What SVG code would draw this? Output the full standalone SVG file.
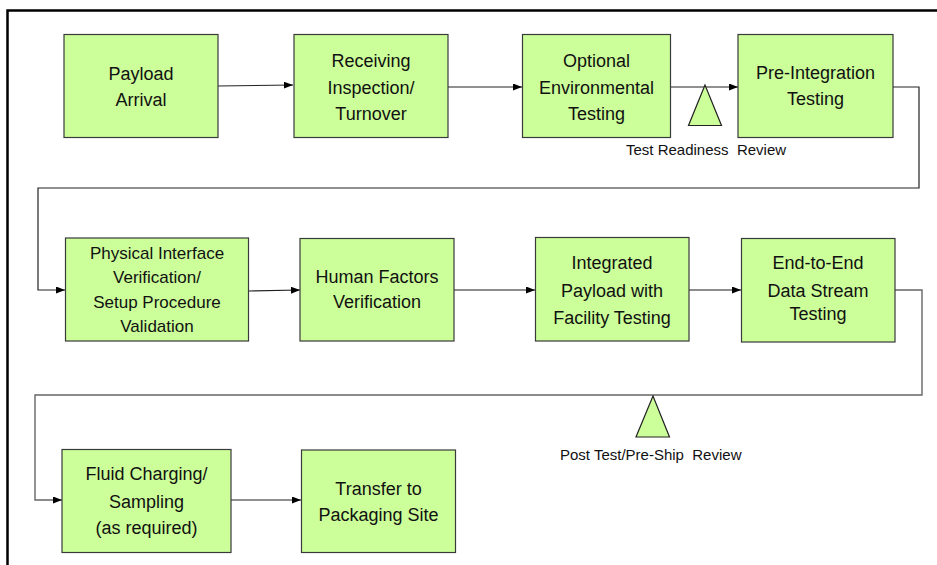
<svg xmlns="http://www.w3.org/2000/svg" width="937" height="565" viewBox="0 0 937 565">
<style>
.box{fill:#ccff99;stroke:#3a3a3a;stroke-width:1.2}
.tri{fill:#ccff99;stroke:#222;stroke-width:1.2}
.t{font-family:"Liberation Sans",Arial,sans-serif;font-size:18px;fill:#111;text-anchor:middle}
.ts{font-size:17px}
.cap{font-family:"Liberation Sans",Arial,sans-serif;font-size:15px;fill:#111;white-space:pre}
.c{fill:none;stroke:#222;stroke-width:1.2}
.cg{fill:none;stroke:#666;stroke-width:1.4}
</style>
<defs>
<marker id="ah" markerUnits="userSpaceOnUse" markerWidth="10" markerHeight="8" refX="9" refY="3.5" orient="auto">
<path d="M0,0 L9,3.5 L0,7 z" fill="#000"/>
</marker>
</defs>
<rect width="937" height="565" fill="#fff"/>
<path d="M7.5,565 V10.5 H937" fill="none" stroke="#000" stroke-width="2.5"/>
<g id="connectors">
<path class="c" d="M218,86 L293,85" marker-end="url(#ah)"/>
<path class="c" d="M448,87 L522,87" marker-end="url(#ah)"/>
<path class="c" d="M671,87 L738,87" marker-end="url(#ah)"/>
<path class="c" d="M893,87 H919 V188 H38 V290 H65" marker-end="url(#ah)"/>
<path class="c" d="M249,291 L300,290" marker-end="url(#ah)"/>
<path class="cg" d="M454,290 L535,290" marker-end="url(#ah)"/>
<path class="cg" d="M689,290 L741,290" marker-end="url(#ah)"/>
<path class="cg" d="M895,290 H922 V395 H35 V500 H62" marker-end="url(#ah)"/>
<path class="c" d="M231,500 L301,500" marker-end="url(#ah)"/>
</g>
<g id="n1"><rect class="box" x="64" y="34.5" width="154" height="103"/>
<text class="t" x="141" y="80">Payload</text><text class="t" x="141" y="106">Arrival</text></g>
<g id="n2"><rect class="box" x="294" y="34.5" width="154" height="103"/>
<text class="t" x="371" y="67">Receiving</text><text class="t" x="371" y="94">Inspection/</text><text class="t" x="371" y="120">Turnover</text></g>
<g id="n3"><rect class="box" x="522.5" y="34.5" width="148" height="103"/>
<text class="t" x="596.5" y="67">Optional</text><text class="t" x="596.5" y="94">Environmental</text><text class="t" x="596.5" y="120">Testing</text></g>
<g id="n4"><rect class="box" x="738" y="34.5" width="155" height="103"/>
<text class="t" x="815.5" y="79">Pre-Integration</text><text class="t" x="815.5" y="105">Testing</text></g>
<g id="r1"><polygon class="tri" points="705,85 688.5,125.5 721.5,125.5"/>
<text class="cap" x="626" y="155">Test Readiness  Review</text></g>
<g id="n5"><rect class="box" x="65.5" y="238" width="183" height="103"/>
<text class="t ts" x="157" y="259">Physical Interface</text><text class="t ts" x="157" y="283">Verification/</text><text class="t ts" x="157" y="307.5">Setup Procedure</text><text class="t ts" x="157" y="332">Validation</text></g>
<g id="n6"><rect class="box" x="300" y="238.5" width="154" height="102.5"/>
<text class="t" x="377" y="283">Human Factors</text><text class="t" x="377" y="308">Verification</text></g>
<g id="n7"><rect class="box" x="535.5" y="237.5" width="153.5" height="103.5"/>
<text class="t" x="612" y="269">Integrated</text><text class="t" x="612" y="296.5">Payload with</text><text class="t" x="612" y="323.5">Facility Testing</text></g>
<g id="n8"><rect class="box" x="741.5" y="238.5" width="153.5" height="103.5"/>
<text class="t" x="818" y="269">End-to-End</text><text class="t" x="818" y="296.5">Data Stream</text><text class="t" x="818" y="320">Testing</text></g>
<g id="r2"><polygon class="tri" points="653,396 636,437 669.5,437"/>
<text class="cap" x="560" y="460">Post Test/Pre-Ship  Review</text></g>
<g id="n9"><rect class="box" x="62" y="449.5" width="169" height="103"/>
<text class="t" x="146.5" y="480">Fluid Charging/</text><text class="t" x="146.5" y="508">Sampling</text><text class="t" x="146.5" y="534">(as required)</text></g>
<g id="n10"><rect class="box" x="301.5" y="450" width="154" height="102.5"/>
<text class="t" x="378.5" y="495">Transfer to</text><text class="t" x="378.5" y="520.5">Packaging Site</text></g>
</svg>
